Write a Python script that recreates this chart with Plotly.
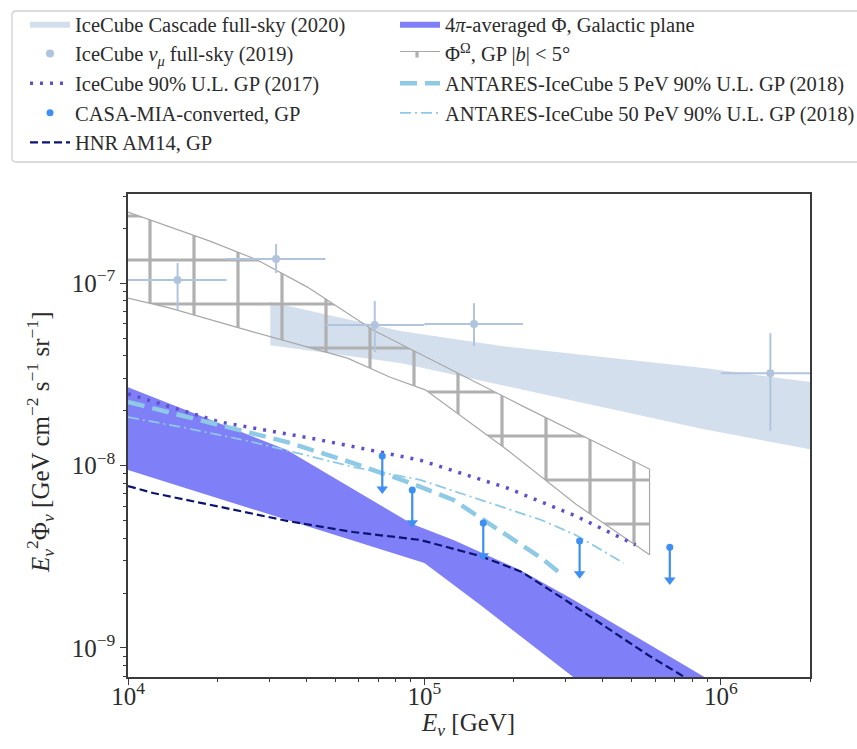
import numpy as np
import plotly.graph_objects as go

# ---------------- data ----------------
# IceCube cascade full-sky (2020) band
cascade_E = [3.02e4, 8.3e4, 1.82e5, 8.77e5, 2.0e6]
cascade_lo = [4.57e-8, 3.65e-8, 2.76e-8, 1.58e-8, 1.23e-8]
cascade_hi = [7.87e-8, 5.46e-8, 4.52e-8, 3.42e-8, 2.87e-8]

# IceCube nu_mu full-sky (2019) points
numu_E = [1.47e4, 3.16e4, 6.8e4, 1.47e5, 1.47e6]
numu_Elo = [1.0e4, 2.15e4, 4.64e4, 1.0e5, 1.0e6]
numu_Ehi = [2.15e4, 4.64e4, 1.0e5, 2.15e5, 2.15e6]
numu_F = [1.04e-7, 1.355e-7, 5.89e-8, 5.96e-8, 3.21e-8]
numu_Flo = [7.1e-8, 1.135e-7, 4.19e-8, 4.52e-8, 1.55e-8]
numu_Fhi = [1.29e-7, 1.64e-7, 7.97e-8, 7.76e-8, 5.32e-8]

# IceCube 90% U.L. GP (2017)
ic90_E = [1.0e4, 2.05e4, 4.46e4, 9.68e4, 1.905e5, 3.24e5, 5.16e5]
ic90_F = [2.47e-8, 1.73e-8, 1.38e-8, 1.07e-8, 7.53e-9, 5.29e-9, 3.67e-9]

# CASA-MIA-converted upper limits, GP
casa_E = [7.21e4, 9.10e4, 1.58e5, 3.34e5, 6.73e5]
casa_F = [1.127e-8, 7.34e-9, 4.84e-9, 3.86e-9, 3.57e-9]

# HNR AM14, GP
hnr_E = [1.0e4, 1.215e4, 2.05e4, 3.44e4, 5.75e4, 9.68e4, 1.545e5, 2.13e5,
         2.99e5, 4.18e5, 5.75e5, 7.74e5]
hnr_F = [7.72e-9, 7.07e-9, 5.93e-9, 4.97e-9, 4.32e-9, 3.91e-9, 3.19e-9,
         2.61e-9, 1.83e-9, 1.27e-9, 9.03e-10, 6.76e-10]

# 4pi-averaged flux, Galactic plane (band)
gp_hi_E = [1.0e4, 3.44e4, 9.10e4, 1.253e5, 2.11e5, 3.11e5, 9.04e5]
gp_hi_F = [2.69e-8, 1.216e-8, 4.78e-9, 3.91e-9, 2.67e-9, 1.88e-9, 6.76e-10]
gp_lo_E = [1.0e4, 1.0e5, 1.545e5, 3.24e5]
gp_lo_F = [9.44e-9, 2.92e-9, 1.72e-9, 6.76e-10]

# Phi^Omega, GP |b| < 5 deg (hatched region)
omega_hi_E = [1.0e4, 1.387e4, 1.89e4, 2.73e4, 4.03e4, 6.73e4, 1.107e5, 2.18e5, 5.75e5]
omega_hi_F = [2.45e-7, 2.03e-7, 1.70e-7, 1.34e-7, 9.51e-8, 5.52e-8, 3.65e-8, 2.09e-8, 9.57e-9]
omega_lo_E = [1.0e4, 1.387e4, 2.64e4, 5.50e4, 7.67e4, 1.007e5, 1.905e5, 3.24e5, 5.75e5]
omega_lo_F = [8.28e-8, 7.30e-8, 5.40e-8, 3.88e-8, 3.05e-8, 2.60e-8, 1.216e-8, 6.15e-9, 3.24e-9]

# ANTARES-IceCube 5 PeV 90% U.L. GP (2018)
ant5_E = [1.0e4, 2.05e4, 3.44e4, 5.75e4, 8.98e4, 1.253e5, 1.905e5, 2.48e5, 2.95e5]
ant5_F = [2.23e-8, 1.667e-8, 1.345e-8, 1.032e-8, 8.02e-9, 6.47e-9, 4.16e-9, 3.11e-9, 2.48e-9]

# ANTARES-IceCube 50 PeV 90% U.L. GP (2018)
ant50_E = [1.0e4, 1.58e4, 2.64e4, 5.75e4, 9.68e4, 1.545e5, 2.48e5, 3.24e5, 4.70e5]
ant50_F = [1.845e-8, 1.603e-8, 1.345e-8, 9.82e-9, 8.34e-9, 6.47e-9, 5.03e-9, 4.16e-9, 2.92e-9]

x_ticks = [1e4, 1e5, 1e6]
x_ticktext = ["10<sup>4</sup>", "10<sup>5</sup>", "10<sup>6</sup>"]
y_ticks = [1e-9, 1e-8, 1e-7]
y_ticktext = ["10<sup>−9</sup>", "10<sup>−8</sup>", "10<sup>−7</sup>"]

# ---------------- layout geometry ----------------
W, H = 857, 749
ML, MR, MT, MB = 128, 47, 194, 72
PW, PH = W - ML - MR, H - MT - MB


def px_x(p):
    return (p - ML) / PW


def px_y(p):
    return (H - MB - p) / PH


FONT = "Liberation Serif"
TXT = "#2b2b2b"
fig = go.Figure()

# 4pi-averaged band
fig.add_trace(go.Scatter(
    x=gp_hi_E + gp_lo_E[::-1], y=gp_hi_F + gp_lo_F[::-1],
    fill="toself", mode="lines", line=dict(width=0),
    fillcolor="rgba(0,0,240,0.5)",
    name="4<i>π</i>-averaged Φ, Galactic plane",
    legend="legend2", legendrank=1, legendgroup="g6", hoverinfo="skip"))

# cascade band
fig.add_trace(go.Scatter(
    x=cascade_E + cascade_E[::-1], y=cascade_hi + cascade_lo[::-1],
    fill="toself", mode="lines", line=dict(width=0),
    fillcolor="rgba(176,196,222,0.55)",
    name="IceCube Cascade full-sky (2020)",
    legend="legend", legendrank=1, legendgroup="g1", hoverinfo="skip"))

# hatched Phi^Omega region
fig.add_trace(go.Scatter(
    x=omega_hi_E + omega_lo_E[::-1], y=omega_hi_F + omega_lo_F[::-1],
    fill="toself", mode="lines", line=dict(width=1.2, color="#a8a8a8"),
    fillcolor="rgba(0,0,0,0)",
    fillpattern=dict(shape="+", size=44, solidity=0.14, fgopacity=1,
                     fgcolor="#b0b0b0", bgcolor="rgba(0,0,0,0)"),
    name="Φ<sup>Ω</sup>, GP |<i>b</i>| &lt; 5°",
    legend="legend2", legendrank=2, legendgroup="g7", hoverinfo="skip"))

# nu_mu points
numu_E_a = np.array(numu_E)
numu_F_a = np.array(numu_F)
fig.add_trace(go.Scatter(
    x=numu_E, y=numu_F, mode="markers",
    marker=dict(size=8, color="#b0c4de"),
    error_x=dict(type="data", symmetric=False,
                 array=np.array(numu_Ehi) - numu_E_a,
                 arrayminus=numu_E_a - np.array(numu_Elo),
                 color="#b0c4de", thickness=2, width=0),
    error_y=dict(type="data", symmetric=False,
                 array=np.array(numu_Fhi) - numu_F_a,
                 arrayminus=numu_F_a - np.array(numu_Flo),
                 color="#b0c4de", thickness=2, width=0),
    name="IceCube <i>ν</i><sub><i>μ</i></sub> full-sky (2019)",
    legend="legend", legendrank=2, legendgroup="g2"))

# IceCube 90% UL
fig.add_trace(go.Scatter(
    x=ic90_E, y=ic90_F, mode="lines",
    line=dict(color="#5f4fd0", width=3.5, dash="3px,7px"),
    name="IceCube 90% U.L. GP (2017)", legend="legend", legendrank=3,
    legendgroup="g3"))

# ANTARES-IceCube limits
fig.add_trace(go.Scatter(
    x=ant5_E, y=ant5_F, mode="lines",
    line=dict(color="#8ecae6", width=4.5, dash="17px,8px"),
    name="ANTARES-IceCube 5 PeV 90% U.L. GP (2018)",
    legend="legend2", legendrank=3, legendgroup="g8"))
fig.add_trace(go.Scatter(
    x=ant50_E, y=ant50_F, mode="lines",
    line=dict(color="#8ecae6", width=1.8, dash="11px,4px,2px,4px"),
    name="ANTARES-IceCube 50 PeV 90% U.L. GP (2018)",
    legend="legend2", legendrank=4, legendgroup="g9"))

# HNR model
fig.add_trace(go.Scatter(
    x=hnr_E, y=hnr_F, mode="lines",
    line=dict(color="#0b1470", width=2.2, dash="8px,4px"),
    name="HNR AM14, GP", legend="legend", legendrank=5, legendgroup="g5"))

# CASA-MIA upper limits: dot, stem and arrow head
ARROW = 10 ** -0.18
casa_F_a = np.array(casa_F)
casa_tip = casa_F_a * ARROW
fig.add_trace(go.Scatter(
    x=casa_E, y=casa_F, mode="markers",
    marker=dict(size=7, color="#3d8ef5"),
    error_y=dict(type="data", symmetric=False,
                 array=np.zeros(len(casa_F)), arrayminus=casa_F_a - casa_tip,
                 color="#3d8ef5", thickness=2.2, width=0),
    name="CASA-MIA-converted, GP", legend="legend", legendrank=4,
    legendgroup="g4"))
fig.add_trace(go.Scatter(
    x=casa_E, y=casa_tip, mode="markers",
    marker=dict(symbol="triangle-down", size=10, color="#3d8ef5"),
    showlegend=False, hoverinfo="skip", legendgroup="g4"))

# legend frame
x0, x1 = px_x(12), px_x(900)
y0, y1 = px_y(162), px_y(11)
rx, ry = 4 / PW, 4 / PH
path = (f"M{x0+rx},{y0} L{x1-rx},{y0} Q{x1},{y0} {x1},{y0+ry} "
        f"L{x1},{y1-ry} Q{x1},{y1} {x1-rx},{y1} L{x0+rx},{y1} "
        f"Q{x0},{y1} {x0},{y1-ry} L{x0},{y0+ry} Q{x0},{y0} {x0+rx},{y0} Z")
fig.add_shape(type="path", path=path, xref="paper", yref="paper",
              line=dict(color="#d0d0d0", width=1.3), fillcolor="white",
              layer="below")

# axis titles
fig.add_annotation(
    text="<i>E</i><sub><i>ν</i></sub> [GeV]", xref="paper", yref="paper",
    x=px_x(468), y=px_y(724), xanchor="center", yanchor="middle",
    showarrow=False, font=dict(family=FONT, size=25, color=TXT))
fig.add_annotation(
    text="<i>E</i><sub><i>ν</i></sub><sup>2</sup>Φ<sub><i>ν</i></sub> "
         "[GeV cm<sup>−2</sup> s<sup>−1</sup> sr<sup>−1</sup>]",
    xref="paper", yref="paper", x=px_x(40), y=px_y(442),
    xanchor="center", yanchor="middle", textangle=-90,
    showarrow=False, font=dict(family=FONT, size=25, color=TXT))

legend_common = dict(
    bgcolor="rgba(0,0,0,0)", borderwidth=0, itemwidth=40,
    font=dict(family=FONT, size=20.5, color=TXT),
    yanchor="top", xanchor="left", traceorder="grouped",
    itemclick=False, itemdoubleclick=False, tracegroupgap=0)

axis_common = dict(
    type="log", showgrid=False, zeroline=False,
    showline=True, linecolor="#3a3a3a", linewidth=1.5, mirror=True,
    ticks="outside", ticklen=6, tickwidth=1.2, tickcolor="#3a3a3a",
    tickfont=dict(family=FONT, size=25, color=TXT))

x_minor = [m * 10 ** d for d in range(4, 7) for m in range(2, 10) if m * 10 ** d <= 2e6]
y_minor = [m * 10.0 ** d for d in range(-10, -6) for m in range(2, 10)]

fig.update_layout(
    width=W, height=H,
    margin=dict(l=ML, r=MR, t=MT, b=MB, autoexpand=False),
    paper_bgcolor="white", plot_bgcolor="white",
    font=dict(family=FONT, size=20, color=TXT),
    showlegend=True,
    legend=dict(x=px_x(25), y=px_y(4), **legend_common),
    legend2=dict(x=px_x(395), y=px_y(4), **legend_common),
    xaxis=dict(range=[4, np.log10(2e6)], tickvals=x_ticks, ticktext=x_ticktext,
               ticklabelstandoff=-10,
               minor=dict(tickvals=x_minor, ticks="outside", ticklen=3,
                          tickcolor="#3a3a3a"),
               **axis_common),
    yaxis=dict(range=[np.log10(6.93e-10), np.log10(3.08e-7)],
               tickvals=y_ticks, ticktext=y_ticktext,
               minor=dict(tickvals=y_minor, ticks="outside", ticklen=3,
                          tickcolor="#3a3a3a"),
               **axis_common),
)

fig.write_html("out.html")
